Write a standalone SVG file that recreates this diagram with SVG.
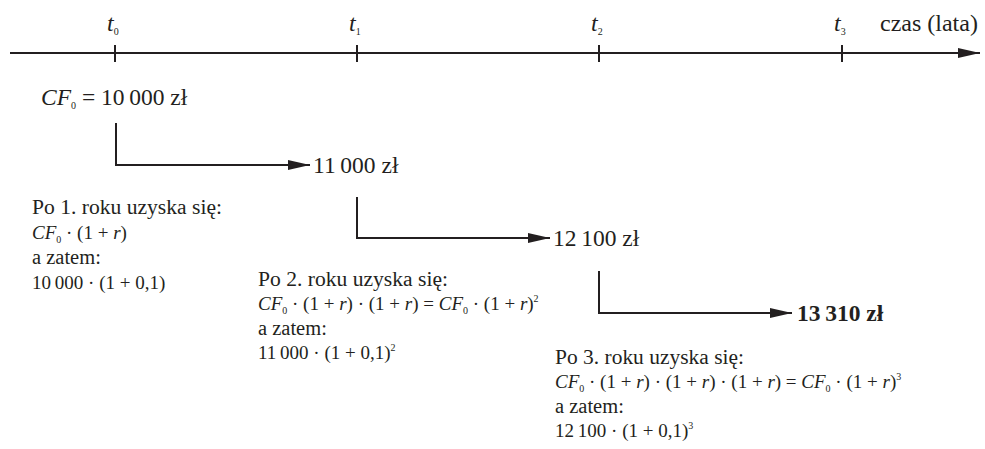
<svg xmlns="http://www.w3.org/2000/svg" width="985" height="449" viewBox="0 0 985 449">
<defs>
<marker id="ah" markerWidth="22" markerHeight="10" refX="22" refY="5" orient="auto" markerUnits="userSpaceOnUse">
<path d="M0,0 L22,5 L0,10 Z" fill="#231f20"/>
</marker>
<style>
text{font-family:"Liberation Serif","DejaVu Serif",serif;fill:#231f20;font-size:19px}
.i{font-style:italic}
.sub{font-size:10px;font-style:normal;font-weight:normal}
.big{font-size:23.5px}
.t{font-size:24px}
.w{font-size:20.5px}
.b{font-weight:bold}
.ln{stroke:#231f20;stroke-width:2;fill:none}
</style>
</defs>
<g id="axis">
<line class="ln" x1="10" y1="53" x2="980" y2="53" marker-end="url(#ah)"/>
<line class="ln" x1="115" y1="45" x2="115" y2="62"/>
<line class="ln" x1="357" y1="45" x2="357" y2="62"/>
<line class="ln" x1="599" y1="45" x2="599" y2="62"/>
<line class="ln" x1="842" y1="45" x2="842" y2="62"/>
<text class="t" x="107" y="31"><tspan class="i">t</tspan><tspan class="sub" dy="4">0</tspan></text>
<text class="t" x="349" y="31"><tspan class="i">t</tspan><tspan class="sub" dy="4">1</tspan></text>
<text class="t" x="591" y="31"><tspan class="i">t</tspan><tspan class="sub" dy="4">2</tspan></text>
<text class="t" x="834" y="31"><tspan class="i">t</tspan><tspan class="sub" dy="4">3</tspan></text>
<text class="t" x="880" y="31">czas (lata)</text>
</g>
<g id="connectors">
<polyline class="ln" points="116,123 116,165 310,165" marker-end="url(#ah)"/>
<polyline class="ln" points="357,197 357,238 550,238" marker-end="url(#ah)"/>
<polyline class="ln" points="599,271 599,313 792,313" marker-end="url(#ah)"/>
</g>
<g id="cf0">
<text class="big" x="41" y="105"><tspan class="i">CF</tspan><tspan class="sub" dy="4">0</tspan><tspan dy="-4"> = 10&#8201;000 zł</tspan></text>
</g>
<g id="v1"><text class="big" x="313" y="173">11&#8201;000 zł</text></g>
<g id="v2"><text class="big" x="553" y="246">12&#8201;100 zł</text></g>
<g id="v3"><text class="big b" x="797" y="321">13&#8201;310 zł</text></g>
<g id="block1">
<text class="w" x="32" y="214" textLength="190" lengthAdjust="spacingAndGlyphs">Po 1. roku uzyska się:</text>
<text x="32" y="239"><tspan class="i">CF</tspan><tspan class="sub" dy="4">0</tspan><tspan dy="-4"> · (1 + </tspan><tspan class="i">r</tspan>)</text>
<text class="w" x="32" y="264">a zatem:</text>
<text x="32" y="289">10&#8201;000 · (1 + 0,1)</text>
</g>
<g id="block2">
<text class="w" x="258" y="286" textLength="190" lengthAdjust="spacingAndGlyphs">Po 2. roku uzyska się:</text>
<text x="258" y="310"><tspan class="i">CF</tspan><tspan class="sub" dy="4">0</tspan><tspan dy="-4"> · (1 + </tspan><tspan class="i">r</tspan>) · (1 + <tspan class="i">r</tspan>) = <tspan class="i">CF</tspan><tspan class="sub" dy="4">0</tspan><tspan dy="-4"> · (1 + </tspan><tspan class="i">r</tspan>)<tspan class="sub" dy="-8">2</tspan></text>
<text class="w" x="258" y="335">a zatem:</text>
<text x="258" y="359">11&#8201;000 · (1 + 0,1)<tspan class="sub" dy="-8">2</tspan></text>
</g>
<g id="block3">
<text class="w" x="555" y="364" textLength="189" lengthAdjust="spacingAndGlyphs">Po 3. roku uzyska się:</text>
<text x="555" y="388"><tspan class="i">CF</tspan><tspan class="sub" dy="4">0</tspan><tspan dy="-4"> · (1 + </tspan><tspan class="i">r</tspan>) · (1 + <tspan class="i">r</tspan>) · (1 + <tspan class="i">r</tspan>) = <tspan class="i">CF</tspan><tspan class="sub" dy="4">0</tspan><tspan dy="-4"> · (1 + </tspan><tspan class="i">r</tspan>)<tspan class="sub" dy="-8">3</tspan></text>
<text class="w" x="555" y="413">a zatem:</text>
<text x="555" y="437">12&#8201;100 · (1 + 0,1)<tspan class="sub" dy="-8">3</tspan></text>
</g>
</svg>
